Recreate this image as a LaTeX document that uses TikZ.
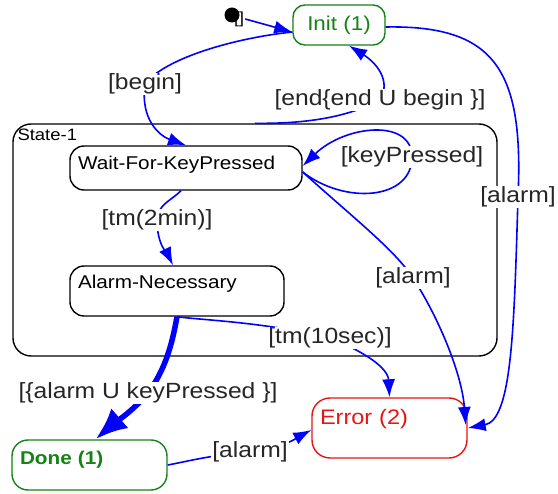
\documentclass[tikz,border=0pt]{standalone}
\usepackage{fontspec}
\setmainfont{Liberation Sans}[FakeStretch=1.12]
\usetikzlibrary{arrows.meta}
\definecolor{stgreen}{RGB}{20,130,20}
\definecolor{sterr}{RGB}{230,20,20}
\tikzset{
  state/.style={draw, rounded corners=14pt, line width=1.4pt, inner xsep=8pt, inner ysep=0pt,
    align=left, font=\fontsize{18.5}{20}\selectfont},
  tr/.style={blue, line width=1.6pt, -{Latex[length=18pt,width=13pt]}},
  lbl/.style={fill=white, inner sep=1pt, text=black!85, font=\fontsize{22}{24}\selectfont},
}
\begin{document}
\begin{tikzpicture}[x=1pt,y=-1pt]
    \useasboundingbox (0,0) rectangle (558,494);

    % composite state
    \node[draw, rounded corners=18pt, line width=1.4pt, minimum width=484pt, minimum height=232pt, inner sep=0pt,
      label={[anchor=north west, inner sep=5pt, font=\fontsize{16.5}{18}\selectfont]north west:State-1}] (state1) at (255,240) {};

    % states
    \node[state, draw=stgreen, text=stgreen, align=center, rounded corners=12pt, minimum width=92pt, minimum height=40pt,
      font=\fontsize{20}{22}\selectfont] (init) at (339,25) {Init (1)};
    \node[state, text width=216pt, minimum height=44pt, text depth=10pt] (wait) at (186,168) {Wait-For-KeyPressed};
    \node[state, text width=198pt, minimum height=50pt, text depth=18pt] (alarm) at (177,291) {Alarm-Necessary};
    \node[state, draw=sterr, text=sterr, rounded corners=18pt, text width=139pt, minimum height=60pt, text depth=22pt,
      font=\fontsize{21}{22}\selectfont] (error) at (389.5,428) {Error (2)};
    \node[state, draw=stgreen, text=stgreen, rounded corners=16pt, text width=139pt, minimum height=50pt, text depth=14pt,
      font=\fontsize{18.5}{20}\selectfont\bfseries] (done) at (89.5,465) {Done (1)};

    % initial pseudo state
    \node[font=\fontsize{16}{17}\selectfont, inner sep=1pt] (startlbl) at (239,19) {[]};
    \node[circle, fill=black, inner sep=0pt, minimum size=15pt] (start) at (232,15) {};

    % transitions
    \draw[tr] (startlbl.east) -- ([yshift=-7pt]init.west);
    \draw[tr] ([yshift=-7pt]init.west) .. controls (235,38) and (165,58) .. (145,84) node[lbl] {[begin]}
        .. controls (140,120) and (160,136) .. (wait.north);
    \draw[tr] (state1.north) .. controls (310,124) and (350,116) .. (380,100) node[lbl] {[end\{end U begin \}]}
        .. controls (392,80) and (375,62) .. ([xshift=10pt]init.south);
    \draw[tr] ([yshift=-4pt]wait.east) .. controls (345,205) and (412,200) .. (412,157) node[lbl] {[keyPressed]}
        .. controls (412,118) and (345,125) .. ([yshift=2pt]wait.east);
    \draw[tr] ([xshift=-5pt]wait.south) .. controls (172,200) and (157,205) .. (157,220) node[lbl] {[tm(2min)]}
        .. controls (157,245) and (168,255) .. ([xshift=-4pt]alarm.north);
    \draw[tr] ([yshift=-4pt]wait.east) .. controls (350,215) and (395,250) .. (413,278) node[lbl] {[alarm]}
        .. controls (440,320) and (462,375) .. ([xshift=-2pt,yshift=3pt]error.east);
    \draw[tr] ([yshift=-2pt]init.east) .. controls (495,25) and (524,70) .. (518,197) node[lbl] {[alarm]}
        .. controls (514,330) and (512,420) .. (error.east);
    \draw[tr] (alarm.south) .. controls (200,320) and (265,322) .. (330,338) node[lbl] {[tm(10sec)]}
        .. controls (365,352) and (388,368) .. (error.north);
    \draw[tr, line width=5.5pt, -{Latex[length=32pt,width=26pt]}] (alarm.south) .. controls (172,345) and (165,370) .. (148,393)
        node[lbl] {[\{alarm U keyPressed \}]} .. controls (132,412) and (112,425) .. ([xshift=6pt]done.north);
    \draw[tr] (done.east) .. controls (185,462) and (210,455) .. (250,452) node[lbl] {[alarm]}
        .. controls (285,448) and (300,436) .. ([yshift=-2pt]error.west);
\end{tikzpicture}
\end{document}
